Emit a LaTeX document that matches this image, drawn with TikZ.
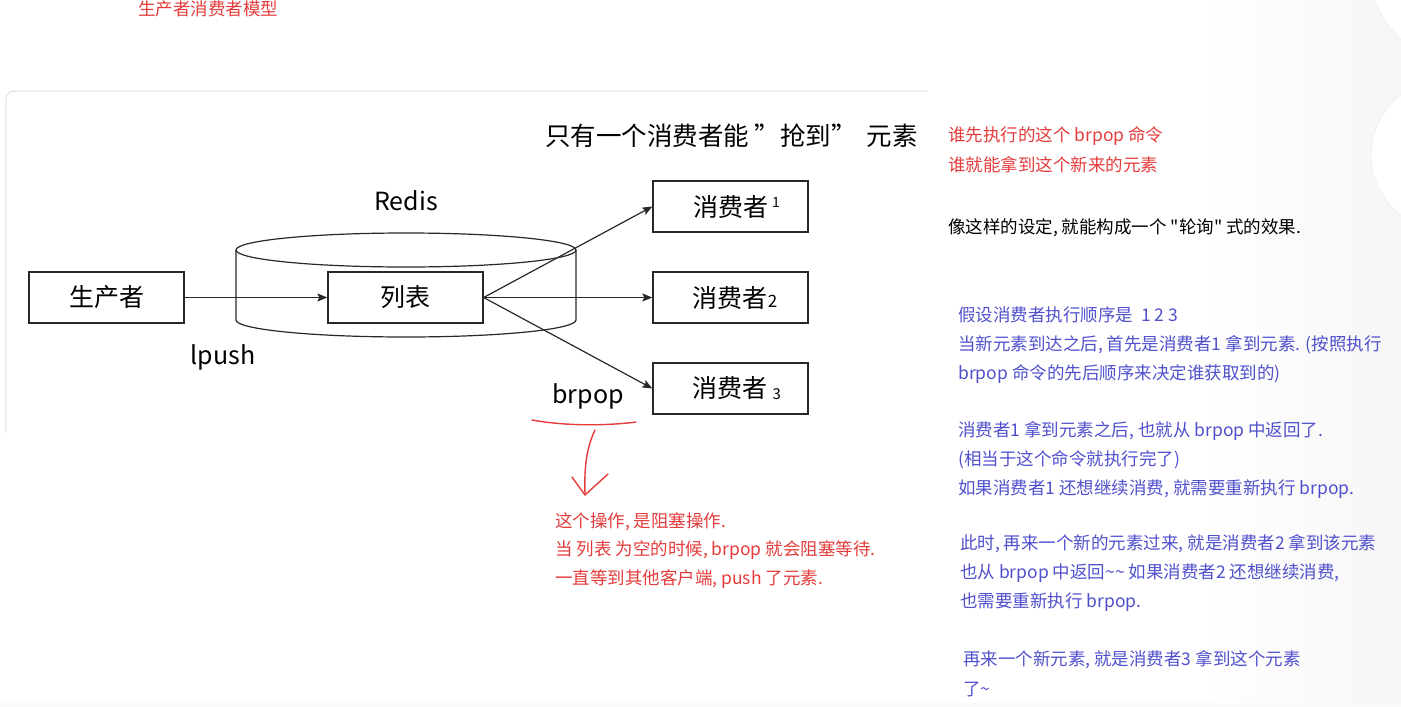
\documentclass[tikz,border=0pt]{standalone}
\usepackage{fontspec}
\setmainfont{Noto Sans CJK SC}[Ligatures=TeXOff]
\usetikzlibrary{arrows.meta}
\definecolor{noteRed}{RGB}{228,60,60}
\definecolor{noteBlue}{RGB}{80,80,205}
\definecolor{boxLine}{RGB}{40,40,40}
\definecolor{panelLine}{RGB}{228,228,228}
\tikzset{
  box/.style={draw=boxLine, line width=1.3pt, minimum width=155pt, minimum height=51pt, inner sep=0pt, font=\fontsize{25}{29}\selectfont},
  big/.style={inner sep=0pt, font=\fontsize{25}{29}\selectfont},
  arr/.style={draw=boxLine, line width=1.2pt, -{Stealth[length=10pt,width=8pt,inset=2pt]}},
  note/.style={anchor=west, inner sep=0pt, font=\fontsize{17.5}{20}\selectfont},
  rednote/.style={note, text=noteRed},
  bluenote/.style={note, text=noteBlue},
  hand/.style={draw=noteRed, line width=1.4pt, line cap=round, line join=round}
}
\begin{document}
\begin{tikzpicture}[x=1pt,y=-1pt]
\useasboundingbox (0,0) rectangle (1401,707);
% background artefacts
\shade[left color=white, right color=gray!7] (1200,0) rectangle (1401,703);
\fill[white, draw=gray!12, line width=0.8pt] (1463,-30) circle[radius=93pt];
\fill[white, draw=gray!12, line width=0.8pt] (1446,155) circle[radius=75pt];
\fill[gray!5] (0,703) rectangle (1401,707);
% panel
\draw[panelLine, line width=1.2pt, rounded corners=8pt] (6,433) -- (6,91) -- (928,91);
% title
\node[rednote] (t0) at (138,8.5) {生产者消费者模型};
% cylinder
\draw[boxLine, line width=1.2pt] (406,250) ellipse [x radius=170pt, y radius=17pt];
\draw[boxLine, line width=1.2pt] (236,250) -- (236,320) arc[start angle=180, end angle=360, x radius=170pt, y radius=17pt] -- (576,250);
% boxes
\node[box] (prod) at (106.5,297.5) {生产者};
\node[box] (list) at (405.5,297.5) {列表};
\node[box] (c1) at (730.5,206.5) {\hspace*{12pt}消费者\,\raisebox{9pt}{\fontsize{14}{14}\selectfont 1}};
\node[box] (c2) at (730.5,297.5) {\hspace*{9pt}消费者{\fontsize{17}{17}\selectfont 2}};
\node[box] (c3) at (730.5,388.5) {\hspace*{12pt}消费者\ \raisebox{-2pt}{\fontsize{15}{15}\selectfont 3}};
% labels
\node[big] (redis) at (406,201) {Redis};
\node[big] (lpush) at (223,357) {lpush};
\node[big] (brpop) at (588,396) {brpop};
\node[big, anchor=west, font=\fontsize{25.5}{29}\selectfont] (head) at (545,136) {只有一个消费者能 ”抢到” \,元素};
% arrows
\draw[arr] (prod.east) -- (list.west);
\draw[arr] (list.east) -- (c1.west);
\draw[arr] (list.east) -- (c2.west);
\draw[arr] (list.east) -- (c3.west);
% hand drawn red marks
\draw[hand] (532,420) .. controls (565,426) and (605,426) .. (636,422);
\draw[hand] (595,430) .. controls (587,447) and (584,465) .. (585,494);
\draw[hand] (572,477) -- (585,495) -- (608,474);
% red notes under brpop
\node[rednote] (r1) at (555,522) {这个操作, 是阻塞操作.};
\node[rednote] (r2) at (555,550) {当 列表 为空的时候, brpop 就会阻塞等待.};
\node[rednote] (r3) at (555,579) {一直等到其他客户端, push 了元素.};
% right notes
\node[rednote] (n1) at (948,136) {谁先执行的这个 brpop 命令};
\node[rednote] (n2) at (948,165) {谁就能拿到这个新来的元素};
\node[note] (n3) at (948,228) {像这样的设定, 就能构成一个 "轮询" 式的效果.};
\node[bluenote] (b1) at (958,315) {假设消费者执行顺序是\ \ 1 2 3};
\node[bluenote] (b2) at (958,345) {当新元素到达之后, 首先是消费者1 拿到元素. (按照执行};
\node[bluenote] (b3) at (958,374) {brpop 命令的先后顺序来决定谁获取到的)};
\node[bluenote] (b4) at (958,431) {消费者1 拿到元素之后, 也就从 brpop 中返回了.};
\node[bluenote] (b5) at (958,460) {(相当于这个命令就执行完了)};
\node[bluenote] (b6) at (958,489) {如果消费者1 还想继续消费, 就需要重新执行 brpop.};
\node[bluenote] (b7) at (960,544) {此时, 再来一个新的元素过来, 就是消费者2 拿到该元素};
\node[bluenote] (b8) at (960,573) {也从 brpop 中返回\textasciitilde\textasciitilde{} 如果消费者2 还想继续消费,};
\node[bluenote] (b9) at (960,602) {也需要重新执行 brpop.};
\node[bluenote] (b10) at (963,660) {再来一个新元素, 就是消费者3 拿到这个元素};
\node[bluenote] (b11) at (963,689) {了\textasciitilde};
\end{tikzpicture}
\end{document}
